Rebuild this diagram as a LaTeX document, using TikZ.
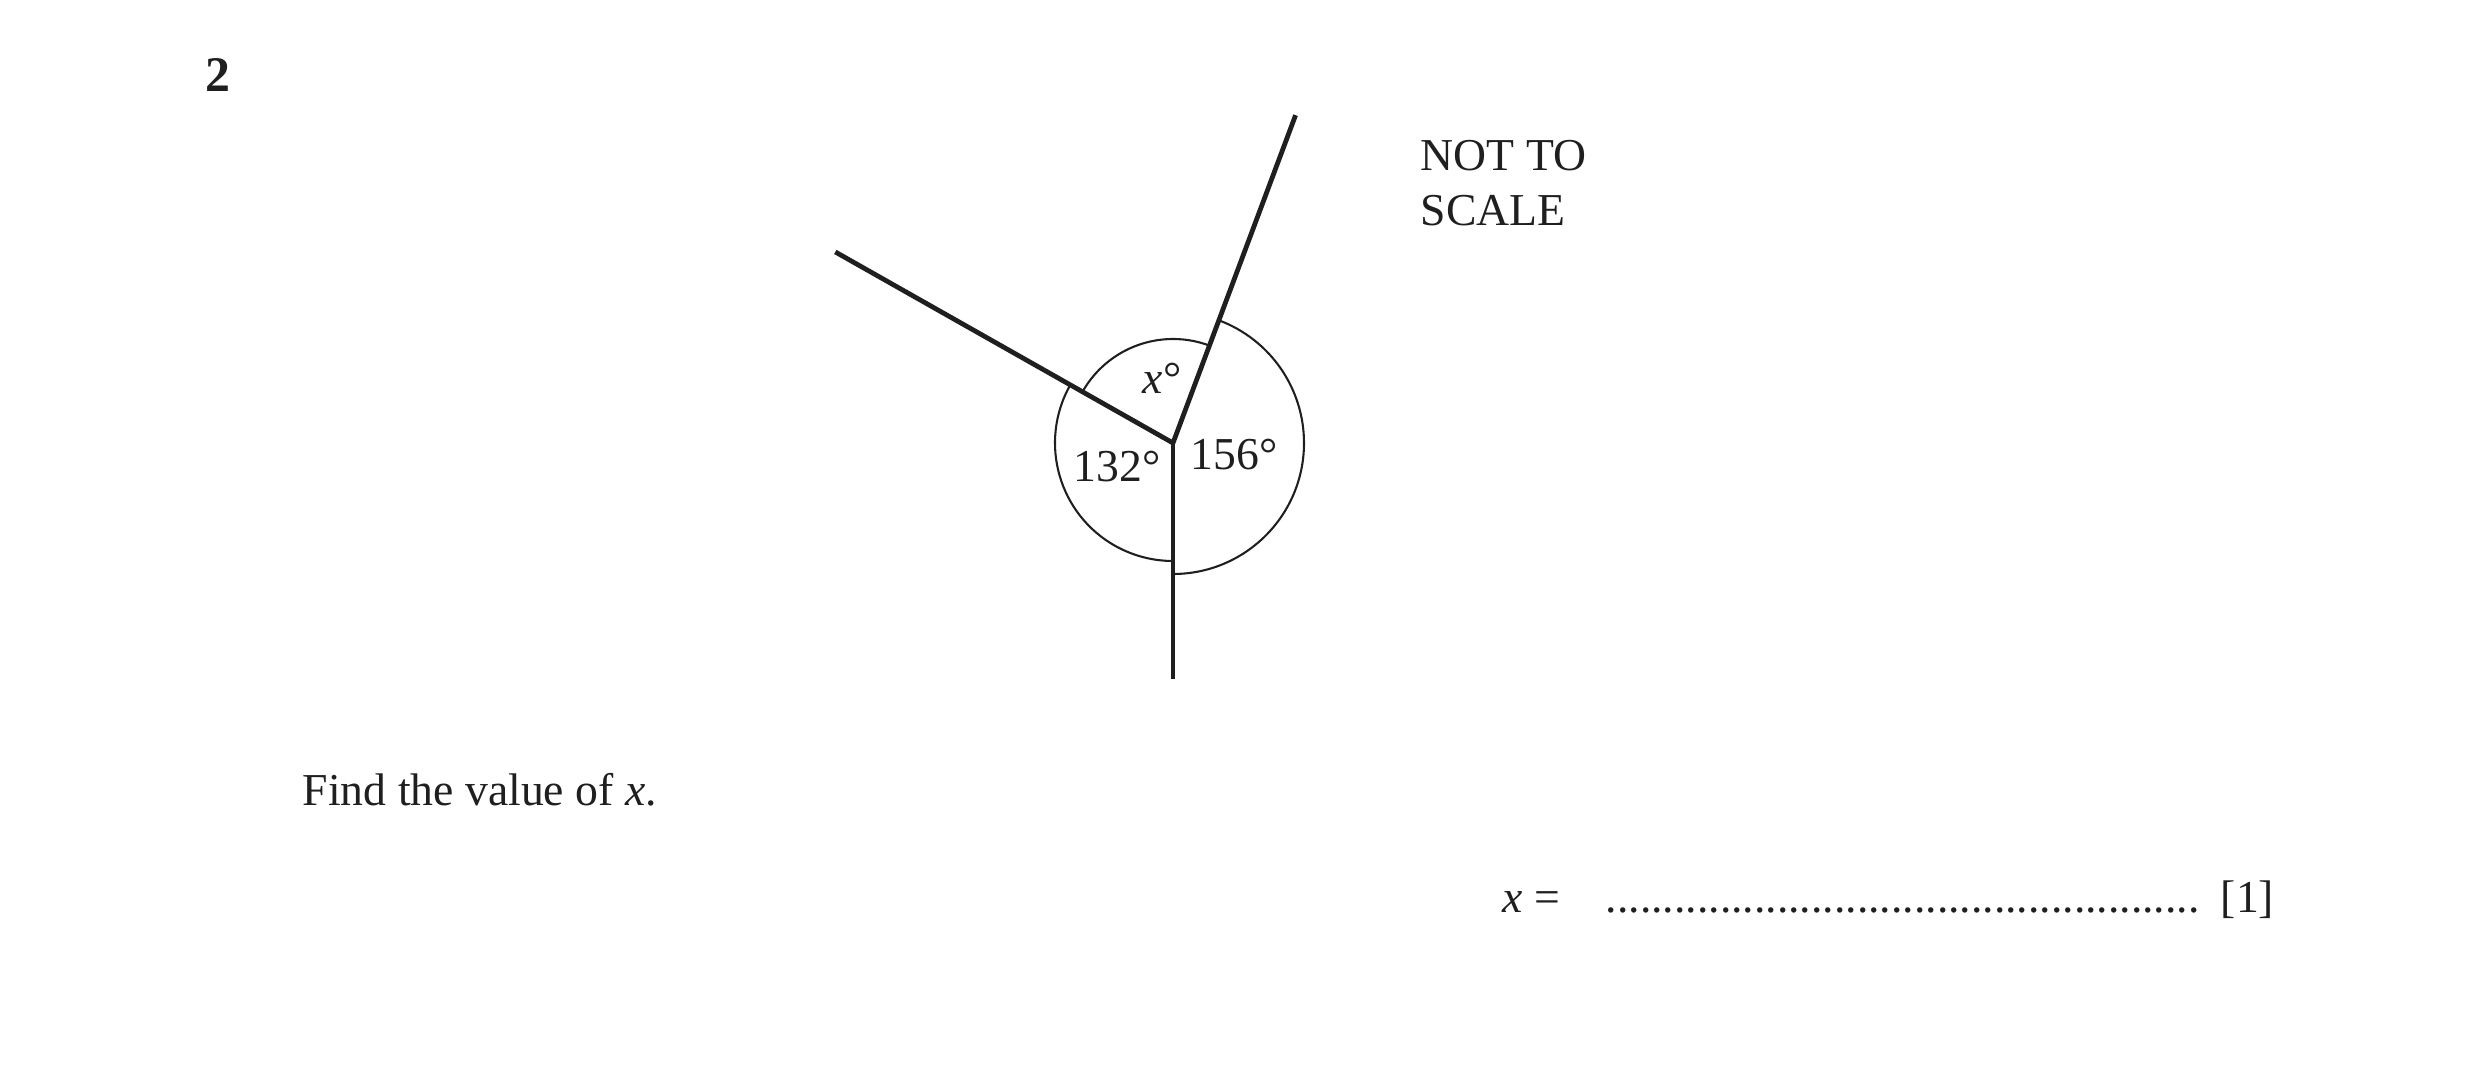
\documentclass[tikz,border=0pt]{standalone}
\usepackage{fontspec}
\setmainfont{Liberation Serif}
\usetikzlibrary{calc}
\begin{document}
\begin{tikzpicture}[x=0.08464mm,y=0.08464mm,
  thickline/.style={line width=1.15pt,color=black!88},
  thinline/.style={line width=0.5pt,color=black!88},
  lbl/.style={inner sep=0pt,font=\fontsize{11}{13}\selectfont,text=black!88}]
\useasboundingbox (0,0) rectangle (2481,1066);
% geometry
\coordinate (V) at (1173,623);
\coordinate (L) at ($(V)+(150.5:388)$);
\coordinate (U) at ($(V)+(69.5:350)$);
\coordinate (D) at ($(V)+(0,-236)$);
\draw[thickline] (L) -- (V) -- (U);
\draw[thickline] (V) -- (D);
% angle arcs
\draw[thinline] ($(V)+(151:118)$) arc[start angle=151,end angle=270,radius=118];
\draw[thinline] ($(V)+(69.5:104)$) arc[start angle=69.5,end angle=150.5,radius=104];
\draw[thinline] ($(V)+(-90:131)$) arc[start angle=-90,end angle=69.5,radius=131];
% labels
\node[lbl,font=\fontsize{12}{14}\selectfont] (qn) at (218,991) {\textbf{2}};
\node[lbl,anchor=base west] (nts1) at (1420,895) {NOT TO};
\node[lbl,anchor=base west] (nts2) at (1420,840) {SCALE};
\node[lbl] (ax) at (1162,688) {\textit{x}°};
\node[lbl] (a132) at (1117,599) {132°};
\node[lbl] (a156) at (1234,611) {156°};
\node[lbl,anchor=base west] (find) at (302,260) {Find the value of \textit{x}.};
\node[lbl,anchor=base west] (xeq) at (1502,154) {\textit{x} =};
\node[lbl,anchor=base west] (dots) at (1605,154) {....................................................};
\node[lbl,anchor=base west] (mark) at (2220,154) {[1]};
\end{tikzpicture}
\end{document}
